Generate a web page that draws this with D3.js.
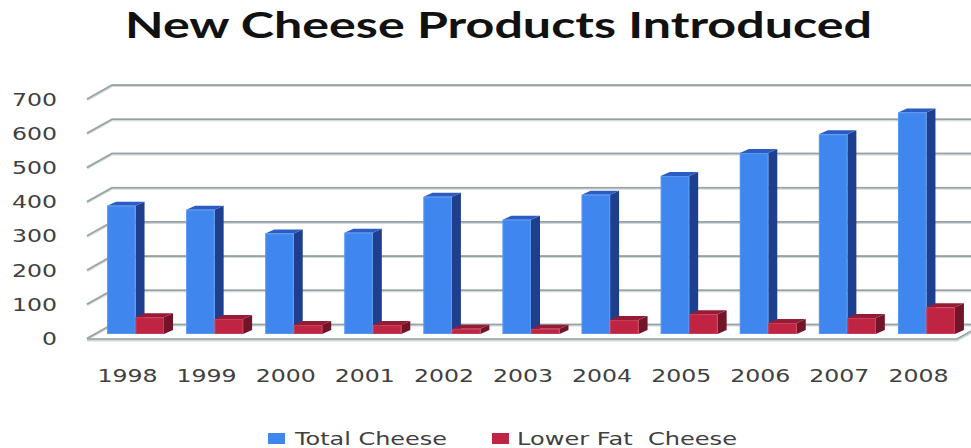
<!DOCTYPE html>
<html>
<head>
<meta charset="utf-8">
<script src="https://cdn.jsdelivr.net/npm/d3@7"></script>
<style>
  html, body { margin: 0; padding: 0; background: #fff; }
  svg { display: block; }
</style>
</head>
<body>
<svg id="chart" width="971" height="448"></svg>
<script>
// Data
const years = ["1998","1999","2000","2001","2002","2003","2004","2005","2006","2007","2008"];
const totalCheese = [375, 363, 294, 296, 401, 334, 407, 462, 529, 584, 648];
const lowerFatCheese = [49, 44, 26, 26, 15, 15, 41, 58, 32, 47, 78];
const yTicks = [0, 100, 200, 300, 400, 500, 600, 700];
const seriesNames = ["Total Cheese", "Lower Fat  Cheese"];

const svg = d3.select("#chart");

// Oblique 3D geometry: front plane, back wall offset, bar plane offset
const wall = { dx: 25, dy: -14 };
const barPlane = { dx: 9, dy: -5 };
const barDepth = { dx: 9, dy: -4 };

const y = d3.scaleLinear().domain([0, 700]).range([339, 99.6]);
const x = d3.scaleBand().domain(years).range([87, 957]).paddingInner(0.28).paddingOuter(0.14);
const xs = d3.scaleBand().domain(seriesNames).range([0, x.bandwidth()]);

const colors = [
  { front: "#3f86ef", side: "#1d3f8e", top: "#2b5cc4", edge: "#6aa3f5" },
  { front: "#bf2443", side: "#731528", top: "#951c34", edge: "#d2506a" }
];

// Title
svg.append("text")
  .attr("x", 125).attr("y", 38)
  .attr("textLength", 747).attr("lengthAdjust", "spacingAndGlyphs")
  .style("font-family", "Lato, 'Open Sans', sans-serif")
  .style("font-weight", 700).style("font-size", "36px").style("fill", "#111")
  .text("New Cheese Products Introduced");

// Back wall gridlines and left-side diagonal ticks
const grid = svg.append("g");
yTicks.forEach(v => {
  const yf = y(v), yb = yf + wall.dy;
  const xf = 87, xb = 87 + wall.dx;
  grid.append("path")
    .attr("d", `M${xf},${yf}L${xb},${yb}L${990},${yb}`)
    .attr("fill", "none").attr("stroke", "#d3d9d9").attr("stroke-width", 3);
  grid.append("path")
    .attr("d", `M${xf},${yf - 0.5}L${xb},${yb - 0.5}L${990},${yb - 0.5}`)
    .attr("fill", "none").attr("stroke", "#98a2a2").attr("stroke-width", 1.6);
});

// Floor front edge and right edge
const floor = svg.append("g");
floor.append("path")
  .attr("d", `M87,${y(0) + 1}L957,${y(0) + 1}L${957 + wall.dx},${y(0) + 1 + wall.dy}`)
  .attr("fill", "none").attr("stroke", "#d3d9d9").attr("stroke-width", 3);
floor.append("path")
  .attr("d", `M87,${y(0)}L957,${y(0)}L${957 + wall.dx},${y(0) + wall.dy}`)
  .attr("fill", "none").attr("stroke", "#98a2a2").attr("stroke-width", 1.6);

// Y axis labels (glyphs stretched wide, ~15px per digit)
const labelFont = "'DejaVu Sans', Verdana, sans-serif";
svg.append("g").selectAll("text").data(yTicks).join("text")
  .attr("x", 57).attr("y", d => y(d) + 6)
  .attr("text-anchor", "end")
  .attr("textLength", d => String(d).length * 15).attr("lengthAdjust", "spacingAndGlyphs")
  .style("font-family", labelFont).style("font-size", "17px").style("fill", "#404040")
  .text(d => d);

// 3D bars
const bars = svg.append("g");
years.forEach((yr, i) => {
  [totalCheese[i], lowerFatCheese[i]].forEach((v, s) => {
    const c = colors[s];
    const x0 = x(yr) + xs(seriesNames[s]) + barPlane.dx;
    const w = xs.bandwidth();
    const yb = y(0) + barPlane.dy;
    const yt = y(v) + barPlane.dy;
    const g = bars.append("g");
    // side face
    g.append("path")
      .attr("d", `M${x0 + w},${yt}L${x0 + w + barDepth.dx},${yt + barDepth.dy}L${x0 + w + barDepth.dx},${yb + barDepth.dy}L${x0 + w},${yb}Z`)
      .attr("fill", c.side);
    // top face
    g.append("path")
      .attr("d", `M${x0},${yt}L${x0 + barDepth.dx},${yt + barDepth.dy}L${x0 + w + barDepth.dx},${yt + barDepth.dy}L${x0 + w},${yt}Z`)
      .attr("fill", c.top);
    // front face
    g.append("rect")
      .attr("x", x0).attr("y", yt).attr("width", w).attr("height", yb - yt)
      .attr("fill", c.front);
    g.append("rect")
      .attr("x", x0 + 0.5).attr("y", yt + 0.5).attr("width", w - 1).attr("height", Math.max(0, yb - yt - 1))
      .attr("fill", "none").attr("stroke", c.edge).attr("stroke-width", 1).attr("stroke-opacity", 0.6);
  });
});

// Category labels
svg.append("g").selectAll("text").data(years).join("text")
  .attr("x", d => x(d) + x.bandwidth() / 2 + 1).attr("y", 382)
  .attr("text-anchor", "middle")
  .attr("textLength", 60).attr("lengthAdjust", "spacingAndGlyphs")
  .style("font-family", labelFont).style("font-size", "17px").style("fill", "#404040")
  .text(d => d);

// Legend
const legend = svg.append("g");
const legendItems = [
  { name: seriesNames[0], sx: 268, tx: 295, tw: 152, color: colors[0].front },
  { name: seriesNames[1], sx: 492, tx: 517, tw: 220, color: colors[1].front }
];
legendItems.forEach(it => {
  legend.append("rect")
    .attr("x", it.sx).attr("y", 433).attr("width", 17).attr("height", 11)
    .attr("fill", it.color);
  legend.append("text")
    .attr("x", it.tx).attr("y", 445)
    .attr("textLength", it.tw).attr("lengthAdjust", "spacingAndGlyphs")
    .attr("xml:space", "preserve")
    .style("white-space", "pre")
    .style("font-family", labelFont).style("font-size", "17px").style("fill", "#404040")
    .text(it.name);
});
</script>
</body>
</html>
